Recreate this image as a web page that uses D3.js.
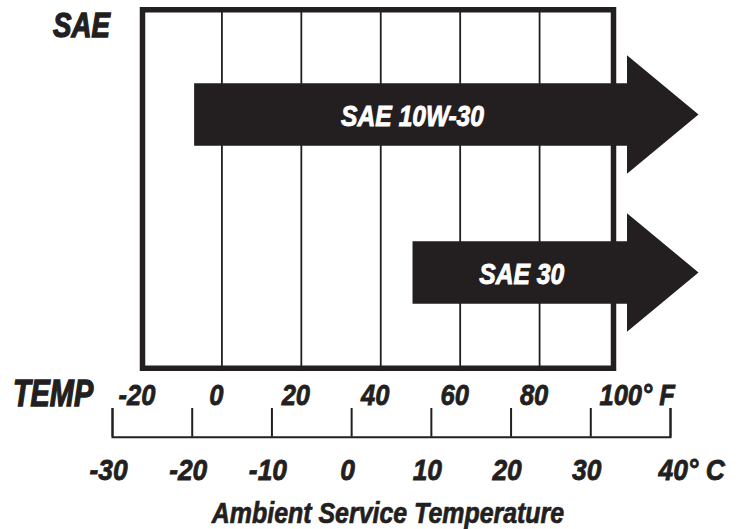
<!DOCTYPE html>
<html>
<head>
<meta charset="utf-8">
<script src="https://cdn.jsdelivr.net/npm/d3@7"></script>
<style>
  html, body { margin: 0; padding: 0; background: #ffffff; }
  svg { display: block; }
  .t { font-family: 'Liberation Sans', Arial, Helvetica, sans-serif; font-weight: bold; font-style: italic; }
</style>
</head>
<body>
<svg id="chart" width="738" height="529"></svg>
<script>
// ---- data ----
const grades = ["SAE 10W-30", "SAE 30"];
const gradeStartF = [-7, 48];          // lowest ambient temperature (°F) where each grade applies
const fahrenheitTicks = [-20, 0, 20, 40, 60, 80, 100];
const gridTicksF = [0, 20, 40, 60, 80];
const celsiusTicks = [-30, -20, -10, 0, 10, 20, 30, 40];
const axisTitle = "Ambient Service Temperature";
const yLabel = "SAE";
const tempLabel = "TEMP";

// ---- layout ----
const W = 738, H = 529;
const ink = "#231f20";
const box = { left: 142.5, right: 613.5, top: 9.75, bottom: 368.25 };

const svg = d3.select("#chart");
svg.append("rect").attr("width", W).attr("height", H).attr("fill", "#fff");

const xF = d3.scaleLinear().domain([-20, 100]).range([142.5, 619]);
const xC = d3.scaleLinear().domain([-30, 40]).range([112, 670]);
const yRow = d3.scalePoint().domain(grades).range([114.5, 272.5]);

// condensed text helper (horizontal squeeze)
function place(sel, x, y, sx) {
  return sel.attr("x", 0).attr("y", 0)
    .attr("transform", `translate(${x},${y}) scale(${sx},1)`);
}

// frame
svg.append("rect")
  .attr("x", box.left).attr("y", box.top)
  .attr("width", box.right - box.left).attr("height", box.bottom - box.top)
  .attr("fill", "#fff").attr("stroke", ink).attr("stroke-width", 5.5);

// vertical grid
svg.append("g").selectAll("line").data(gridTicksF).join("line")
  .attr("x1", d => xF(d)).attr("x2", d => xF(d))
  .attr("y1", box.top).attr("y2", box.bottom)
  .attr("stroke", ink).attr("stroke-width", 1.8);

// arrows
const shaftHalf = 31.3, headHalf = 59.3;
const headBase = box.right + 13.5, tip = box.right + 85;
const arrows = grades.map((g, i) => ({ g, start: gradeStartF[i] }));
const line = d3.line();
svg.append("g").selectAll("path").data(arrows).join("path")
  .attr("d", d => {
    const x0 = xF(d.start), cy = yRow(d.g);
    return line([
      [x0, cy - shaftHalf], [headBase, cy - shaftHalf], [headBase, cy - headHalf],
      [tip, cy], [headBase, cy + headHalf], [headBase, cy + shaftHalf], [x0, cy + shaftHalf]
    ]) + "Z";
  })
  .attr("fill", ink);

svg.append("g").selectAll("text").data(arrows).join("text")
  .attr("class", "t")
  .attr("text-anchor", "middle")
  .attr("font-size", 29)
  .attr("fill", "#fff").attr("stroke", "#fff").attr("stroke-width", 0.9)
  .text(d => d.g)
  .each(function (d) {
    place(d3.select(this), (xF(d.start) + headBase) / 2 + 2, yRow(d.g) + 11.5, 0.85);
  });

// titles
place(svg.append("text").attr("class", "t")
  .attr("font-size", 35).attr("fill", ink)
  .attr("stroke", ink).attr("stroke-width", 1.4)
  .text(yLabel), 53, 37, 0.79);

place(svg.append("text").attr("class", "t")
  .attr("font-size", 37).attr("fill", ink)
  .attr("stroke", ink).attr("stroke-width", 1.4)
  .text(tempLabel), 13, 405.5, 0.78);

// Fahrenheit labels
const gF = svg.append("g").attr("transform", "translate(0,405)")
  .call(d3.axisTop(xF).tickValues(fahrenheitTicks).tickSize(0)
    .tickFormat(d => d === 100 ? "100° F" : d));
gF.select(".domain").remove();
gF.selectAll(".tick text")
  .attr("class", "t")
  .attr("dy", 0)
  .attr("font-size", 29).attr("fill", ink)
  .attr("stroke", ink).attr("stroke-width", 0.8)
  .attr("text-anchor", d => d === 100 ? "start" : "middle")
  .each(function (d) { place(d3.select(this), d === 100 ? -20 : -6, 0, 0.88); });

// Celsius axis
const gC = svg.append("g").attr("transform", "translate(0,436.7)")
  .call(d3.axisBottom(xC).tickValues(celsiusTicks).tickSize(-28.7)
    .tickFormat(d => d === 40 ? "40° C" : d));
gC.select(".domain").attr("stroke", ink).attr("stroke-width", 2);
gC.selectAll(".tick line").attr("stroke", ink).attr("stroke-width", 2);
gC.selectAll(".tick text")
  .attr("class", "t")
  .attr("dy", 0)
  .attr("font-size", 30).attr("fill", ink)
  .attr("stroke", ink).attr("stroke-width", 0.8)
  .attr("text-anchor", d => d === 40 ? "start" : "middle")
  .each(function (d) { place(d3.select(this), d === 40 ? -12 : -4, 43.3, 0.88); });

place(svg.append("text").attr("class", "t")
  .attr("text-anchor", "middle")
  .attr("font-size", 29).attr("fill", ink)
  .attr("stroke", ink).attr("stroke-width", 0.7)
  .text(axisTitle), 388, 523.3, 0.86);
</script>
</body>
</html>
